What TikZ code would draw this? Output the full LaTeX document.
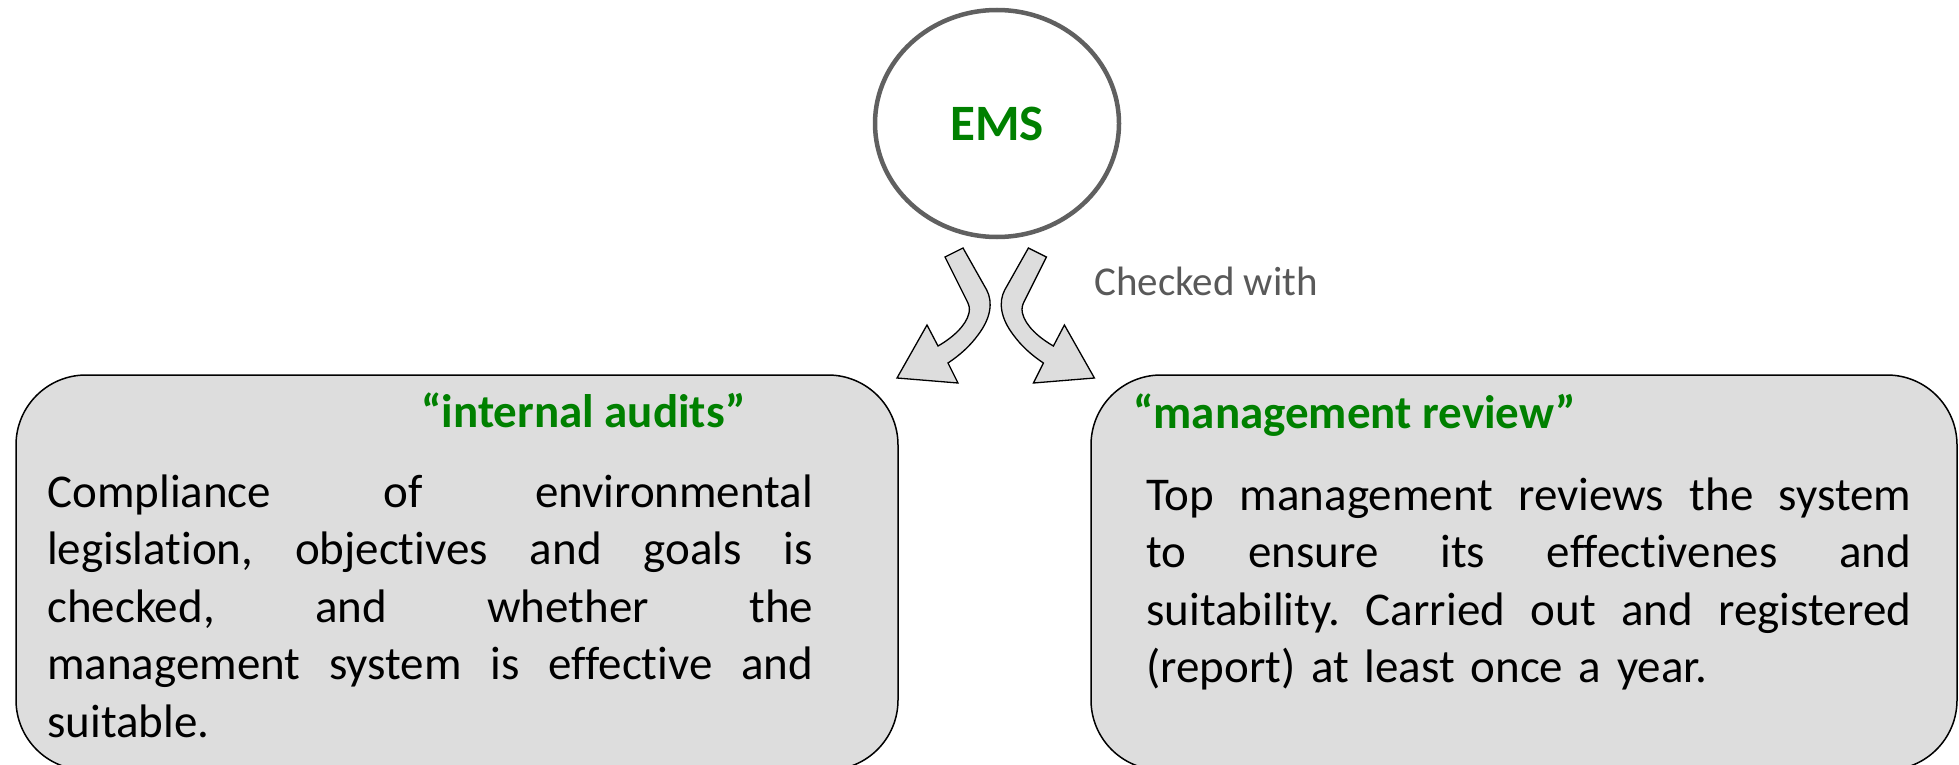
\documentclass[tikz,border=0pt]{standalone}
\usepackage{fontspec}
\setmainfont{Carlito}[Ligatures={NoCommon}]
\usetikzlibrary{shapes.geometric}
\definecolor{emsgreen}{RGB}{0,128,0}
\definecolor{boxgray}{RGB}{221,221,221}
\definecolor{ringgray}{RGB}{96,96,96}
\definecolor{notegray}{RGB}{89,89,89}
\newcommand{\bentarrowpath}{(945,257) -- (963,248) -- (986.7,290) .. controls (993,302) and (991,318) .. (978,335) .. controls (970,346) and (960,355) .. (948,363) -- (958,383) -- (897,378) -- (927,325) -- (938,346) .. controls (952,338) and (966,326) .. (969,313) .. controls (970,308) and (969,305) .. (967,301) -- cycle}
\newcommand{\fullline}[2]{\makebox[#1][s]{\spaceskip=0pt\xspaceskip=0pt\relax #2}}
\begin{document}
\frenchspacing
\begin{tikzpicture}[x=1pt,y=-1pt,
  infobox/.style={draw=black, line width=1.5pt, fill=boxgray, rounded corners=70pt, minimum height=395pt, inner sep=0pt},
  titletext/.style={font=\fontsize{47}{57.5}\selectfont\bfseries, text=emsgreen, inner sep=0pt, anchor=base west},
  bodytext/.style={font=\fontsize{47}{57.5}\selectfont\frenchspacing, text=black, inner sep=0pt, anchor=north west, align=left},
  bentarrow/.style={draw=black, line width=1.3pt, fill=boxgray, line join=miter}
]
\useasboundingbox (0,0) rectangle (1959,765);
\fill[white] (0,0) rectangle (1959,765);

% EMS circle
\node[ellipse, draw=ringgray, line width=4.5pt, fill=white, minimum width=244pt, minimum height=227pt, inner sep=0pt,
      font=\fontsize{51}{60}\selectfont\bfseries, text=emsgreen] (ems) at (997,123.5) {EMS};

% bent arrows
\draw[bentarrow] \bentarrowpath;
\draw[bentarrow, shift={(1991.4,0)}, xscale=-1] \bentarrowpath;

\node[font=\fontsize{41}{48}\selectfont, text=notegray, inner sep=0pt, anchor=base west] (checked) at (1094,295) {Checked with};

% boxes
\node[infobox, minimum width=882pt] (audits) at (457,572.5) {};
\node[infobox, minimum width=866pt] (review) at (1524,572.5) {};

\node[titletext] (auditstitle) at (421,427) {“internal audits”};
\node[titletext] (reviewtitle) at (1133,428) {“management review”};

\node[bodytext, text width=766pt] (auditsbody) at (47,466.75) {%
\noindent\strut\fullline{766pt}{Compliance of environmental}\\
\strut\fullline{766pt}{legislation, objectives and goals is}\\
\strut\fullline{766pt}{checked, and whether the}\\
\strut\fullline{766pt}{management system is effective and}\\
\strut suitable.};

\node[bodytext, text width=765pt] (reviewbody) at (1146,469.75) {%
\noindent\strut\fullline{765pt}{Top management reviews the system}\\
\strut\fullline{765pt}{to ensure its effectivenes and}\\
\strut\fullline{765pt}{suitability. Carried out and registered}\\
\strut (report) at least once a year.};
\end{tikzpicture}
\end{document}
